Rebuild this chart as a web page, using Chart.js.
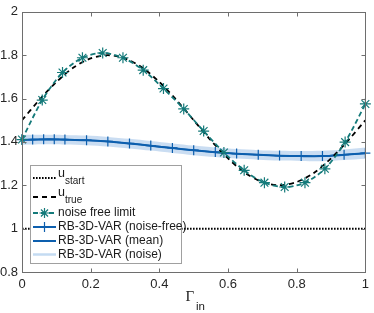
<!DOCTYPE html>
<html lang="en">
<head>
    <meta charset="UTF-8">
    <title>RB-3D-VAR</title>
    <style>
        body { margin: 0; padding: 0; background: #fff; }
        .wrap { width: 374px; height: 313px; }
    </style>
</head>
<body>
    <div class="wrap"><canvas id="c1" width="374" height="313"></canvas></div>

    <script src="https://cdn.jsdelivr.net/npm/chart.js@4.4.0/dist/chart.umd.min.js"></script>
    <script>
    // values
    var xTicks = [0, 0.2, 0.4, 0.6, 0.8, 1];
    var yTicks = [0.8, 1, 1.2, 1.4, 1.6, 1.8, 2];

    var startX = [0, 1];
    var startY = [1, 1];

    var trueX = [0, 0.05, 0.1, 0.15, 0.2, 0.25, 0.3, 0.35, 0.4, 0.45, 0.5, 0.55, 0.6, 0.65, 0.7, 0.75, 0.8, 0.85, 0.9, 0.95, 1];
    var trueY = [1.500, 1.593, 1.676, 1.743, 1.785, 1.800, 1.785, 1.743, 1.676, 1.593, 1.500, 1.407, 1.324, 1.257, 1.215, 1.200, 1.215, 1.257, 1.324, 1.407, 1.500];

    var limitX = [0, 0.059, 0.118, 0.176, 0.235, 0.294, 0.353, 0.412, 0.471, 0.529, 0.588, 0.647, 0.706, 0.765, 0.824, 0.882, 0.941, 1];
    var limitY = [1.411, 1.593, 1.720, 1.788, 1.810, 1.788, 1.731, 1.646, 1.552, 1.450, 1.351, 1.269, 1.212, 1.192, 1.212, 1.276, 1.399, 1.575];

    var rbX = [0, 0.031, 0.063, 0.094, 0.125, 0.188, 0.25, 0.313, 0.375, 0.438, 0.5, 0.563, 0.625, 0.688, 0.75, 0.813, 0.875, 0.938, 1];
    var rbFree = [1.410, 1.411, 1.412, 1.412, 1.411, 1.408, 1.402, 1.393, 1.383, 1.372, 1.362, 1.353, 1.346, 1.341, 1.337, 1.335, 1.335, 1.341, 1.348];
    var rbMean = [1.409, 1.410, 1.411, 1.411, 1.410, 1.407, 1.401, 1.392, 1.382, 1.371, 1.361, 1.352, 1.345, 1.340, 1.336, 1.334, 1.334, 1.340, 1.347];
    var rbUpper = [1.432, 1.433, 1.433, 1.433, 1.432, 1.429, 1.423, 1.414, 1.404, 1.393, 1.383, 1.374, 1.367, 1.362, 1.359, 1.358, 1.359, 1.365, 1.374];
    var rbLower = [1.387, 1.388, 1.389, 1.389, 1.388, 1.385, 1.379, 1.370, 1.360, 1.349, 1.339, 1.330, 1.323, 1.318, 1.314, 1.312, 1.311, 1.316, 1.322];

    var TEAL = '#147a7a';
    var BLUE = '#0d5fae';
    var BAND = 'rgba(90,150,215,0.32)';
    var FONT = '"Liberation Sans", Arial, sans-serif';

    function pts(xs, ys) {
        return xs.map(function(x, i) { return {x: x, y: ys[i]}; });
    }

    // box + inward ticks, MATLAB style
    var boxPlugin = {
        id: 'box',
        afterDatasetsDraw: function(chart) {
            var ctx = chart.ctx, a = chart.chartArea;
            var sx = chart.scales.x, sy = chart.scales.y;
            var L = Math.round(a.left) + 0.5, R = Math.round(a.right) + 0.5;
            var T = Math.round(a.top) + 0.5, B = Math.round(a.bottom) + 0.5;
            ctx.save();
            ctx.strokeStyle = '#6e6e6e';
            ctx.lineWidth = 1;
            ctx.strokeRect(L, T, R - L, B - T);
            ctx.beginPath();
            xTicks.forEach(function(v) {
                var px = Math.round(sx.getPixelForValue(v)) + 0.5;
                ctx.moveTo(px, B); ctx.lineTo(px, B - 4);
                ctx.moveTo(px, T); ctx.lineTo(px, T + 4);
            });
            yTicks.forEach(function(v) {
                var py = Math.round(sy.getPixelForValue(v)) + 0.5;
                ctx.moveTo(L, py); ctx.lineTo(L + 4, py);
                ctx.moveTo(R, py); ctx.lineTo(R - 4, py);
            });
            ctx.stroke();
            ctx.restore();
        }
    };

    // legend with subscripts, drawn by hand
    var legendPlugin = {
        id: 'mlegend',
        afterDraw: function(chart) {
            var ctx = chart.ctx;
            var x0 = 30.5, y0 = 165.5, w = 151, h = 98;
            var lx1 = 33, lx2 = 56, tx = 58;
            ctx.save();
            ctx.fillStyle = '#fff';
            ctx.fillRect(x0, y0, w, h);
            ctx.strokeStyle = '#a0a0a0';
            ctx.lineWidth = 1;
            ctx.strokeRect(x0, y0, w, h);

            function sample(y, color, width, dash) {
                ctx.beginPath();
                ctx.strokeStyle = color;
                ctx.lineWidth = width;
                ctx.setLineDash(dash);
                ctx.moveTo(lx1, y); ctx.lineTo(lx2, y);
                ctx.stroke();
                ctx.setLineDash([]);
            }
            ctx.textBaseline = 'middle';
            ctx.fillStyle = '#1a1a1a';

            // u_start
            sample(178, '#000', 2, [1.6, 1.4]);
            ctx.font = '12.5px ' + FONT;
            ctx.fillText('u', tx, 174);
            ctx.font = '10px ' + FONT;
            ctx.fillText('start', tx + 7, 181);

            // u_true
            sample(197, '#000', 2, [5, 4]);
            ctx.font = '12.5px ' + FONT;
            ctx.fillText('u', tx, 193);
            ctx.font = '10px ' + FONT;
            ctx.fillText('true', tx + 7, 200);

            ctx.font = '12px ' + FONT;
            sample(213, TEAL, 2, [5, 3]);
            ctx.strokeStyle = TEAL;
            ctx.lineWidth = 1.2;
            Chart.helpers.drawPoint(ctx, {pointStyle: 'star', radius: 5, rotation: 0, borderWidth: 1.2}, 44.5, 213);
            ctx.fillText('noise free limit', tx, 213);

            sample(227, BLUE, 2, []);
            ctx.strokeStyle = BLUE;
            ctx.lineWidth = 1.2;
            Chart.helpers.drawPoint(ctx, {pointStyle: 'cross', radius: 5, rotation: 0, borderWidth: 1.2}, 44.5, 227);
            ctx.fillText('RB-3D-VAR (noise-free)', tx, 227);

            sample(241, BLUE, 2, []);
            ctx.fillText('RB-3D-VAR (mean)', tx, 241);

            sample(254.5, '#c4dbf2', 2.5, []);
            ctx.fillText('RB-3D-VAR (noise)', tx, 254.5);

            // x axis title: Gamma_in
            ctx.font = '15px "Liberation Serif", serif';
            ctx.fillText('\u0393', 185.5, 297.5);
            ctx.font = '11.5px ' + FONT;
            ctx.fillText('in', 196, 306.5);
            ctx.restore();
        }
    };

    var ctx = document.getElementById('c1').getContext('2d');

    var chart = new Chart(ctx, {
        type: 'line',
        data: {
            datasets: [
                {
                    label: 'band upper',
                    data: pts(rbX, rbUpper),
                    borderWidth: 0,
                    pointRadius: 0,
                    fill: false,
                    tension: 0.3,
                    order: 7
                },
                {
                    label: 'RB-3D-VAR (noise)',
                    data: pts(rbX, rbLower),
                    borderWidth: 0,
                    pointRadius: 0,
                    backgroundColor: BAND,
                    fill: '-1',
                    tension: 0.3,
                    order: 6
                },
                {
                    label: 'u_start',
                    data: pts(startX, startY),
                    borderColor: '#000',
                    borderWidth: 2,
                    borderDash: [1.6, 1.4],
                    pointRadius: 0,
                    order: 5
                },
                {
                    label: 'RB-3D-VAR (mean)',
                    data: pts(rbX, rbMean),
                    borderColor: BLUE,
                    borderWidth: 1.8,
                    pointRadius: 0,
                    tension: 0.3,
                    order: 4
                },
                {
                    label: 'RB-3D-VAR (noise-free)',
                    data: pts(rbX, rbFree),
                    borderColor: BLUE,
                    borderWidth: 1.8,
                    pointStyle: 'cross',
                    pointRadius: 5,
                    pointBorderWidth: 1.2,
                    pointBorderColor: BLUE,
                    tension: 0.3,
                    clip: false,
                    order: 3
                },
                {
                    label: 'u_true',
                    data: pts(trueX, trueY),
                    borderColor: '#000',
                    borderWidth: 1.8,
                    borderDash: [5, 4],
                    pointRadius: 0,
                    tension: 0.3,
                    order: 2
                },
                {
                    label: 'noise free limit',
                    data: pts(limitX, limitY),
                    borderColor: TEAL,
                    borderWidth: 1.8,
                    borderDash: [5, 3],
                    pointStyle: 'star',
                    pointRadius: 5.5,
                    pointBorderWidth: 1.2,
                    pointBorderColor: TEAL,
                    tension: 0.3,
                    clip: false,
                    order: 1
                }
            ]
        },
        options: {
            responsive: false,
            animation: false,
            events: [],
            layout: { padding: { top: 5, right: 6, left: 0, bottom: 0 } },
            plugins: {
                legend: { display: false },
                tooltip: { enabled: false }
            },
            scales: {
                x: {
                    type: 'linear',
                    min: 0,
                    max: 1,
                    afterFit: function(s) { s.height = 41; },
                    afterBuildTicks: function(s) { s.ticks = xTicks.map(function(v) { return {value: v}; }); },
                    grid: { display: false, drawTicks: false },
                    border: { display: false },
                    ticks: {
                        padding: 5,
                        color: '#262626',
                        font: { family: FONT, size: 13 },
                        maxRotation: 0,
                        callback: function(v) { return String(Math.round(v * 10) / 10); }
                    }
                },
                y: {
                    type: 'linear',
                    min: 0.8,
                    max: 2,
                    afterFit: function(s) { s.width = 22; },
                    afterBuildTicks: function(s) { s.ticks = yTicks.map(function(v) { return {value: v}; }); },
                    grid: { display: false, drawTicks: false },
                    border: { display: false },
                    ticks: {
                        padding: 4,
                        color: '#262626',
                        font: { family: FONT, size: 13 },
                        callback: function(v) { return String(Math.round(v * 10) / 10); }
                    }
                }
            }
        },
        plugins: [boxPlugin, legendPlugin]
    });
    </script>
</body>
</html>
